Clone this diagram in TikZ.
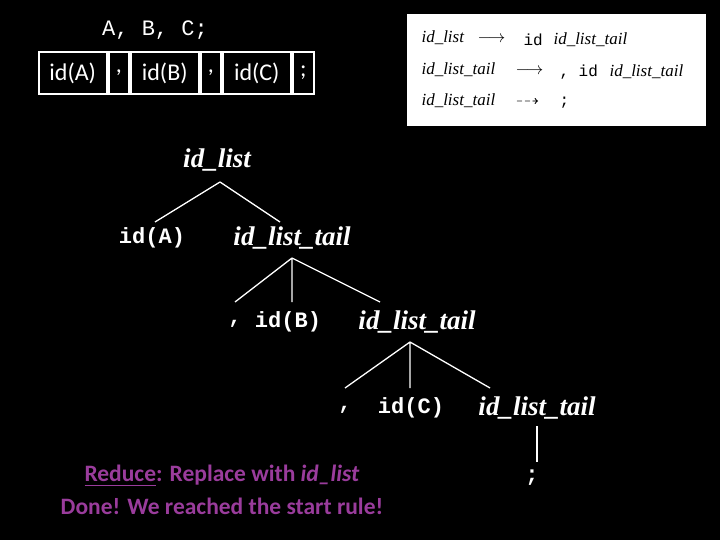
\documentclass[tikz,border=0pt]{standalone}
\usepackage{amssymb}
\usepackage{fontspec}
\setmainfont{Carlito}
\newfontfamily\mono{Liberation Mono}
\newfontfamily\tms{Liberation Serif}
\definecolor{pur}{HTML}{9A3C9C}
\begin{document}
\begin{tikzpicture}[x=1pt,y=-1pt,
  cell/.style={draw=white,line width=1.5pt,fill=black,text=white,font=\fontsize{24}{28}\selectfont,minimum height=42pt,inner sep=0pt,anchor=west},
  tr/.style={text=white,font=\tms\itshape\bfseries\fontsize{27}{30}\selectfont},
  trm/.style={text=white,font=\mono\bfseries\fontsize{22}{26}\selectfont},
  gr/.style={font=\tms\itshape\fontsize{17}{20}\selectfont,anchor=west},
  grm/.style={font=\mono\fontsize{16}{20}\selectfont,anchor=west},
  ln/.style={white,line width=1.3pt}]
\fill[black] (0,0) rectangle (720,540);
\useasboundingbox (0,0) rectangle (720,540);
\node[text=white,font=\mono\fontsize{22}{26}\selectfont] (src) at (155,30) {A, B, C;};
\node[cell,minimum width=68pt] (c1) at (38,73) {id(A)};
\node[cell,minimum width=20pt] (c2) at (108,73) {,};
\node[cell,minimum width=68pt] (c3) at (130,73) {id(B)};
\node[cell,minimum width=20pt] (c4) at (200,73) {,};
\node[cell,minimum width=68pt] (c5) at (222,73) {id(C)};
\node[cell,minimum width=21pt] (c6) at (292,73) {;};
\node[draw=white,fill=white,minimum width=298pt,minimum height=111pt,inner sep=0pt] (box) at (556,69.5) {};
\node[gr] (g1) at (418,38) {id\_list};
\node[grm] (g1a) at (474,39) {$\longrightarrow$};
\node[grm] (g1b) at (520,40) {id};
\node[gr] (g1c) at (550,40) {id\_list\_tail};
\node[gr] (g2) at (418,70) {id\_list\_tail};
\node[grm] (g2a) at (512,71) {$\longrightarrow$};
\node[grm] (g2b) at (556,72) {, id};
\node[gr] (g2c) at (606,72) {id\_list\_tail};
\node[gr] (g3) at (418,101) {id\_list\_tail};
\node[grm] (g3a) at (512,102) {$\dashrightarrow$};
\node[grm] (g3b) at (556,103) {;};
\node[tr] (r) at (217,160) {id\_list};
\node[trm] (a) at (152,238) {id(A)};
\node[tr] (t1) at (292,238) {id\_list\_tail};
\node[trm] (k1) at (235,324) {,};
\node[trm] (b) at (288,322) {id(B)};
\node[tr] (t2) at (417,322) {id\_list\_tail};
\node[trm] (k2) at (345,410) {,};
\node[trm] (c) at (411,408) {id(C)};
\node[tr] (t3) at (537,408) {id\_list\_tail};
\node[trm] (s) at (532,478) {;};
\coordinate (r0) at (220,182);
\coordinate (t10) at (292,258);
\coordinate (t20) at (410,342);
\draw[ln] (r0) -- (155,222) (r0) -- (280,222);
\draw[ln] (t10) -- (235,302) (t10) -- (292,302) (t10) -- (380,302);
\draw[ln] (t20) -- (345,388) (t20) -- (410,388) (t20) -- (490,388);
\draw[ln] (537,426) -- (537,462);
\node[text=pur,font=\bfseries\fontsize{23.5}{27}\selectfont] (m1) at (222,476) {\underline{Reduce}: Replace with \textit{id\_list}};
\node[text=pur,font=\bfseries\fontsize{23.5}{27}\selectfont] (m2) at (222,506) {Done! We reached the start rule!};
\end{tikzpicture}
\end{document}
